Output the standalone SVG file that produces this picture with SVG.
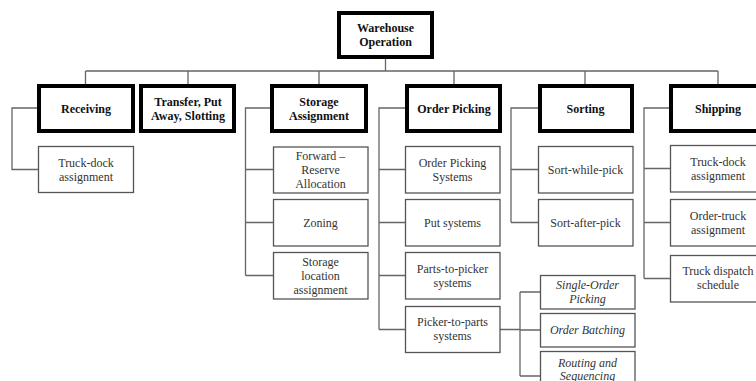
<svg xmlns="http://www.w3.org/2000/svg" width="756" height="381" viewBox="0 0 756 381">
  <style>
    .main { fill: #fff; stroke: #000; stroke-width: 4; }
    .sub { fill: #fff; stroke: #555; stroke-width: 1.3; }
    .link { fill: none; stroke: #666; stroke-width: 1.3; }
    text { font-family: "Liberation Serif", "Times New Roman", serif; font-size: 12px; text-anchor: middle; }
    .b { font-weight: bold; fill: #111; }
    .n { fill: #333; }
    .i { font-style: italic; fill: #333; }
  </style>
  <rect width="756" height="381" fill="#fff"/>

  <!-- connectors -->
  <g id="connectors" class="link">
    <path d="M385.5 59 V71 M85.5 71 H718 M85.5 71 V84 M188 71 V84 M319 71 V84 M454 71 V84 M585 71 V84 M718 71 V84"/>
    <path d="M37 108 H12 V169.5 H38"/>
    <path d="M270 108 H245.5 V275.5 M245.5 169.5 H273 M245.5 222.5 H273 M245.5 275.5 H273"/>
    <path d="M405 108 H379 V329.5 M379 169.5 H405 M379 222.5 H405 M379 275.5 H405 M379 329.5 H405"/>
    <path d="M538 108 H511 V222.5 M511 169.5 H538 M511 222.5 H538"/>
    <path d="M669 108 H644 V278.5 M644 168.5 H670 M644 222.5 H670 M644 278.5 H670"/>
    <path d="M500 329.5 H520 M520 292 V376 M520 292 H540 M520 330 H540 M520 376 H540"/>
  </g>

  <!-- root -->
  <g id="warehouse-operation">
    <rect class="main" x="339" y="13" width="93" height="44"/>
    <text class="b" x="385.5" y="32">Warehouse</text>
    <text class="b" x="385.5" y="46">Operation</text>
  </g>

  <!-- first level -->
  <g id="receiving">
    <rect class="main" x="39" y="86" width="94" height="45"/>
    <text class="b" x="86" y="113">Receiving</text>
  </g>
  <g id="transfer">
    <rect class="main" x="141" y="86" width="93" height="45"/>
    <text class="b" x="188" y="106">Transfer, Put</text>
    <text class="b" x="188" y="120">Away, Slotting</text>
  </g>
  <g id="storage-assignment">
    <rect class="main" x="272" y="86" width="94" height="45"/>
    <text class="b" x="319" y="106">Storage</text>
    <text class="b" x="319" y="120">Assignment</text>
  </g>
  <g id="order-picking">
    <rect class="main" x="407" y="86" width="93" height="45"/>
    <text class="b" x="454" y="113">Order Picking</text>
  </g>
  <g id="sorting">
    <rect class="main" x="540" y="86" width="92" height="45"/>
    <text class="b" x="585.5" y="113">Sorting</text>
  </g>
  <g id="shipping">
    <rect class="main" x="671" y="86" width="94" height="45"/>
    <text class="b" x="718" y="113">Shipping</text>
  </g>

  <!-- receiving children -->
  <g id="recv-truck-dock">
    <rect class="sub" x="38.5" y="146.5" width="95" height="46"/>
    <text class="n" x="86" y="167">Truck-dock</text>
    <text class="n" x="86" y="181">assignment</text>
  </g>

  <!-- storage assignment children -->
  <g id="forward-reserve">
    <rect class="sub" x="273.5" y="147" width="94.5" height="46"/>
    <text class="n" x="320.5" y="160">Forward –</text>
    <text class="n" x="320.5" y="174">Reserve</text>
    <text class="n" x="320.5" y="188">Allocation</text>
  </g>
  <g id="zoning">
    <rect class="sub" x="273.5" y="199.5" width="94.5" height="46.5"/>
    <text class="n" x="320.5" y="227">Zoning</text>
  </g>
  <g id="storage-location">
    <rect class="sub" x="273.5" y="252.5" width="94.5" height="46.5"/>
    <text class="n" x="320.5" y="266">Storage</text>
    <text class="n" x="320.5" y="280">location</text>
    <text class="n" x="320.5" y="294">assignment</text>
  </g>

  <!-- order picking children -->
  <g id="order-picking-systems">
    <rect class="sub" x="405.5" y="146.5" width="94.5" height="46.5"/>
    <text class="n" x="452.5" y="167">Order Picking</text>
    <text class="n" x="452.5" y="181">Systems</text>
  </g>
  <g id="put-systems">
    <rect class="sub" x="405.5" y="199.5" width="94.5" height="46.5"/>
    <text class="n" x="452.5" y="227">Put systems</text>
  </g>
  <g id="parts-to-picker">
    <rect class="sub" x="405.5" y="252.5" width="94.5" height="46.5"/>
    <text class="n" x="452.5" y="273">Parts-to-picker</text>
    <text class="n" x="452.5" y="287">systems</text>
  </g>
  <g id="picker-to-parts">
    <rect class="sub" x="405.5" y="306.5" width="94.5" height="46"/>
    <text class="n" x="452.5" y="326">Picker-to-parts</text>
    <text class="n" x="452.5" y="340">systems</text>
  </g>

  <!-- picker-to-parts children -->
  <g id="single-order-picking">
    <rect class="sub" x="540.5" y="275.5" width="94.5" height="33.5"/>
    <text class="i" x="587.5" y="289">Single-Order</text>
    <text class="i" x="587.5" y="303">Picking</text>
  </g>
  <g id="order-batching">
    <rect class="sub" x="540.5" y="313.5" width="94.5" height="33.5"/>
    <text class="i" x="587.5" y="334">Order Batching</text>
  </g>
  <g id="routing-sequencing">
    <rect class="sub" x="540.5" y="351.5" width="94.5" height="34"/>
    <text class="i" x="587.5" y="367">Routing and</text>
    <text class="i" x="587.5" y="380">Sequencing</text>
  </g>

  <!-- sorting children -->
  <g id="sort-while-pick">
    <rect class="sub" x="538.5" y="146.5" width="94.5" height="46.5"/>
    <text class="n" x="585.5" y="174">Sort-while-pick</text>
  </g>
  <g id="sort-after-pick">
    <rect class="sub" x="538.5" y="199.5" width="94.5" height="46.5"/>
    <text class="n" x="585.5" y="227">Sort-after-pick</text>
  </g>

  <!-- shipping children -->
  <g id="ship-truck-dock">
    <rect class="sub" x="670.5" y="145.5" width="95" height="46.5"/>
    <text class="n" x="718" y="166">Truck-dock</text>
    <text class="n" x="718" y="180">assignment</text>
  </g>
  <g id="order-truck">
    <rect class="sub" x="670.5" y="199.5" width="95" height="46.5"/>
    <text class="n" x="718" y="220">Order-truck</text>
    <text class="n" x="718" y="234">assignment</text>
  </g>
  <g id="truck-dispatch">
    <rect class="sub" x="670.5" y="255.5" width="95" height="46.5"/>
    <text class="n" x="718" y="275">Truck dispatch</text>
    <text class="n" x="718" y="289">schedule</text>
  </g>
</svg>
